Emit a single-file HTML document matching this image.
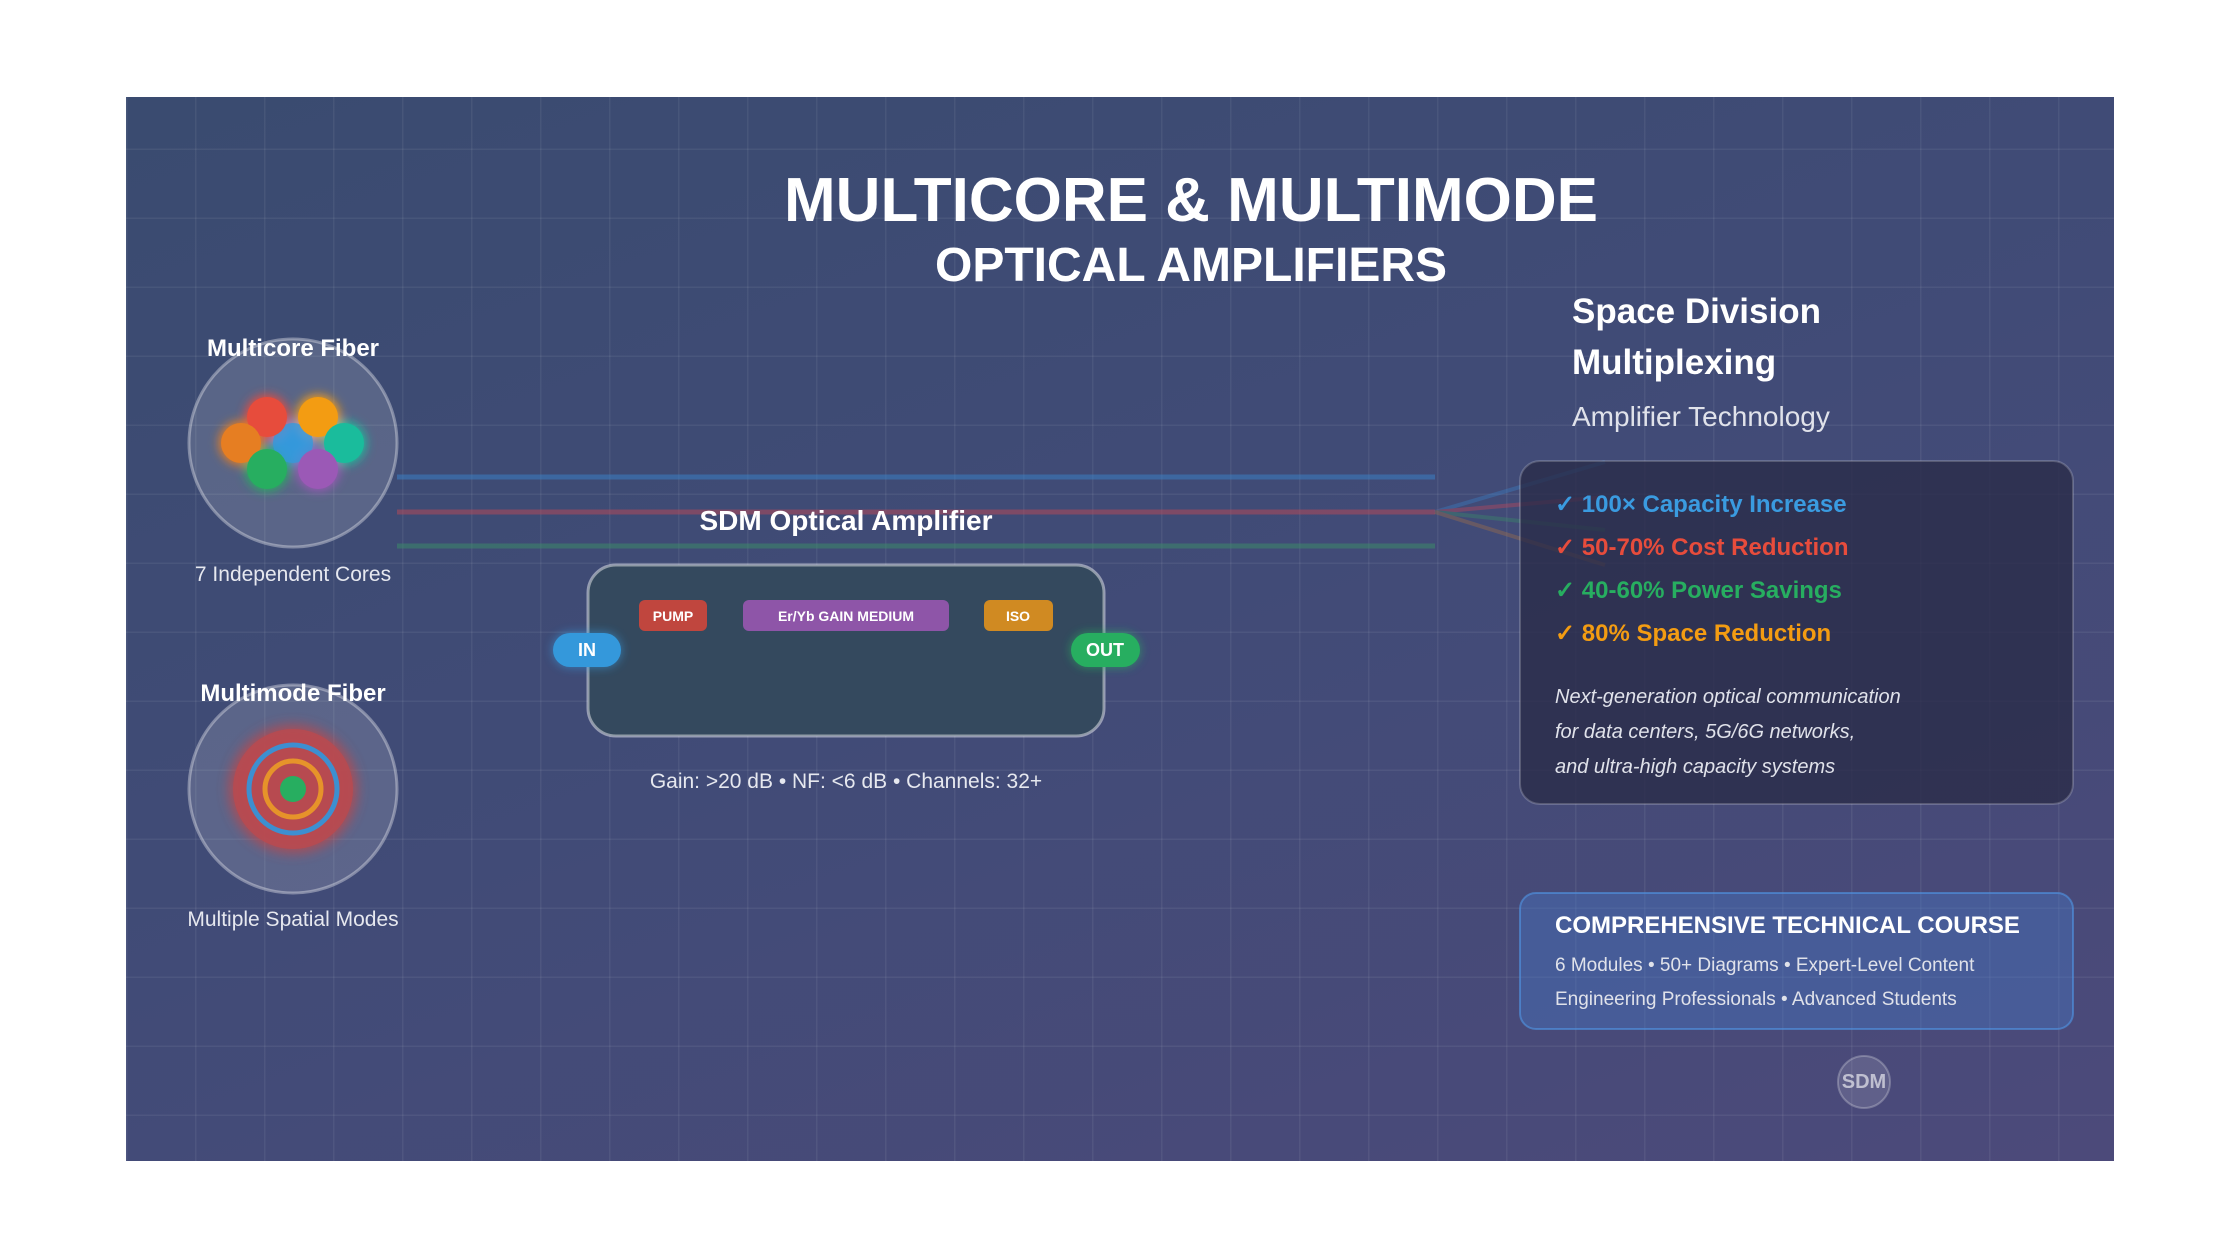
<!DOCTYPE html>
<html><head><meta charset="utf-8"><style>
*{margin:0;padding:0;box-sizing:border-box}
body{width:2240px;height:1260px;background:#fff;position:relative;overflow:hidden;font-family:"Liberation Sans",sans-serif}
#p{position:absolute;left:126px;top:97px;width:1988px;height:1064px;background:linear-gradient(160deg,#3a4b70 0%,#414b77 50%,#4c4a7a 100%);overflow:hidden}
#grid{position:absolute;inset:0;background-image:linear-gradient(90deg,rgba(255,255,255,0.06) 1.5px,transparent 1.5px),linear-gradient(0deg,rgba(255,255,255,0.06) 1.5px,transparent 1.5px);background-size:69px 69px;background-position:0 53px}
.a{position:absolute;white-space:nowrap;color:#fff}
.c{transform:translateX(-50%)}
</style></head><body>
<div id="p"><div id="grid"></div></div>
<svg style="position:absolute;left:0;top:0" width="2240" height="1260">
<defs>
<filter id="g" x="-50%" y="-50%" width="200%" height="200%"><feGaussianBlur stdDeviation="5"/></filter>
<filter id="g2" x="-50%" y="-50%" width="200%" height="200%"><feGaussianBlur stdDeviation="6"/></filter>
</defs>
<line x1="397" y1="477" x2="1435" y2="477" stroke="#3b7fc4" stroke-width="5" opacity="0.55"/>
<line x1="397" y1="512" x2="1435" y2="512" stroke="#b14a5a" stroke-width="5" opacity="0.55"/>
<line x1="397" y1="546" x2="1435" y2="546" stroke="#3c8a6a" stroke-width="5" opacity="0.55"/>
<g stroke-width="4" opacity="0.4">
<line x1="1435" y1="512" x2="1605" y2="462" stroke="#3b7fc4"/>
<line x1="1435" y1="512" x2="1605" y2="497" stroke="#c0485a"/>
<line x1="1435" y1="512" x2="1605" y2="530" stroke="#3c8a6a"/>
<line x1="1435" y1="512" x2="1605" y2="565" stroke="#a0704a"/>
</g>
<circle cx="293" cy="443" r="104" fill="rgba(255,255,255,0.15)" stroke="rgba(255,255,255,0.35)" stroke-width="3"/>
<g filter="url(#g)">
<circle cx="293" cy="443" r="22" fill="#3498db"/>
<circle cx="267" cy="417" r="22" fill="#e74c3c"/>
<circle cx="318" cy="417" r="22" fill="#f39c12"/>
<circle cx="241" cy="443" r="22" fill="#e67e22"/>
<circle cx="344" cy="443" r="22" fill="#1abc9c"/>
<circle cx="267" cy="469" r="22" fill="#27ae60"/>
<circle cx="318" cy="469" r="22" fill="#9b59b6"/>
</g>
<circle cx="293" cy="443" r="20" fill="#3498db" opacity="0.8"/>
<circle cx="267" cy="417" r="20" fill="#e74c3c"/>
<circle cx="318" cy="417" r="20" fill="#f39c12"/>
<circle cx="241" cy="443" r="20" fill="#e67e22"/>
<circle cx="344" cy="443" r="20" fill="#1abc9c"/>
<circle cx="267" cy="469" r="20" fill="#27ae60"/>
<circle cx="318" cy="469" r="20" fill="#9b59b6"/>
<circle cx="293" cy="789" r="104" fill="rgba(255,255,255,0.15)" stroke="rgba(255,255,255,0.35)" stroke-width="3"/>
<circle cx="293" cy="789" r="64" fill="#c0474a" filter="url(#g2)" opacity="0.8"/>
<circle cx="293" cy="789" r="60" fill="#b84a50" opacity="0.85"/>
<circle cx="293" cy="789" r="44" fill="none" stroke="#3d8fd0" stroke-width="5"/>
<circle cx="293" cy="789" r="28" fill="none" stroke="#e6932a" stroke-width="5"/>
<circle cx="293" cy="789" r="13" fill="#27ae60"/>
<rect x="588" y="565" width="516" height="171" rx="28" fill="#34495e" stroke="rgba(255,255,255,0.45)" stroke-width="3"/>
<rect x="639" y="600" width="68" height="31" rx="6" fill="#c0463e"/>
<rect x="743" y="600" width="206" height="31" rx="6" fill="#8e55a8"/>
<rect x="984" y="600" width="69" height="31" rx="6" fill="#d08a22"/>
<rect x="553" y="633" width="68" height="34" rx="17" fill="#3498db" filter="url(#g)" opacity="0.7"/>
<rect x="553" y="633" width="68" height="34" rx="17" fill="#3498db"/>
<rect x="1071" y="633" width="69" height="34" rx="17" fill="#27ae60" filter="url(#g)" opacity="0.7"/>
<rect x="1071" y="633" width="69" height="34" rx="17" fill="#27ae60"/>
<rect x="1520" y="461" width="553" height="343" rx="20" fill="rgba(40,42,70,0.75)" stroke="rgba(255,255,255,0.2)" stroke-width="2"/>
<rect x="1520" y="893" width="553" height="136" rx="16" fill="rgba(70,120,200,0.4)" stroke="rgba(80,150,230,0.6)" stroke-width="2"/>
<circle cx="1864" cy="1082" r="26" fill="rgba(255,255,255,0.12)" stroke="rgba(255,255,255,0.25)" stroke-width="2"/>
</svg>
<div class="a c" style="left:1191px;top:165px;font-size:62px;font-weight:bold">MULTICORE &amp; MULTIMODE</div>
<div class="a c" style="left:1191px;top:238px;font-size:48px;font-weight:bold">OPTICAL AMPLIFIERS</div>
<div class="a c" style="left:293px;top:335px;font-size:24px;font-weight:bold">Multicore Fiber</div>
<div class="a c" style="left:293px;top:563px;font-size:21px;color:#e6e8ef">7 Independent Cores</div>
<div class="a c" style="left:293px;top:680px;font-size:24px;font-weight:bold">Multimode Fiber</div>
<div class="a c" style="left:293px;top:908px;font-size:21px;color:#e6e8ef">Multiple Spatial Modes</div>
<div class="a c" style="left:846px;top:505px;font-size:28px;font-weight:bold">SDM Optical Amplifier</div>
<div class="a c" style="left:673px;top:608px;font-size:14px;font-weight:bold">PUMP</div>
<div class="a c" style="left:846px;top:608px;font-size:14px;font-weight:bold">Er/Yb GAIN MEDIUM</div>
<div class="a c" style="left:1018px;top:608px;font-size:14px;font-weight:bold">ISO</div>
<div class="a c" style="left:587px;top:640px;font-size:18px;font-weight:bold">IN</div>
<div class="a c" style="left:1105px;top:640px;font-size:18px;font-weight:bold">OUT</div>
<div class="a c" style="left:846px;top:770px;font-size:21px;color:#e6e8ef">Gain: &gt;20 dB • NF: &lt;6 dB • Channels: 32+</div>
<div class="a" style="left:1572px;top:292px;font-size:35px;font-weight:bold">Space Division</div>
<div class="a" style="left:1572px;top:343px;font-size:35px;font-weight:bold">Multiplexing</div>
<div class="a" style="left:1572px;top:401px;font-size:28px;color:#e0e2ea">Amplifier Technology</div>
<div class="a" style="left:1555px;top:490px;font-size:24px;font-weight:bold;color:#3a9be0">✓ 100× Capacity Increase</div>
<div class="a" style="left:1555px;top:533px;font-size:24px;font-weight:bold;color:#e74c3c">✓ 50-70% Cost Reduction</div>
<div class="a" style="left:1555px;top:576px;font-size:24px;font-weight:bold;color:#27ae60">✓ 40-60% Power Savings</div>
<div class="a" style="left:1555px;top:619px;font-size:24px;font-weight:bold;color:#f39c12">✓ 80% Space Reduction</div>
<div class="a" style="left:1555px;top:680px;font-size:20px;font-style:italic;color:#e0e2ea;line-height:35px">Next-generation optical communication<br>for data centers, 5G/6G networks,<br>and ultra-high capacity systems</div>
<div class="a" style="left:1555px;top:912px;font-size:24px;font-weight:bold">COMPREHENSIVE TECHNICAL COURSE</div>
<div class="a" style="left:1555px;top:949px;font-size:19px;color:#e0e2ea;line-height:34px">6 Modules • 50+ Diagrams • Expert-Level Content<br>Engineering Professionals • Advanced Students</div>
<div class="a c" style="left:1864px;top:1071px;font-size:20px;font-weight:bold;color:rgba(255,255,255,0.6)">SDM</div>
</body></html>
